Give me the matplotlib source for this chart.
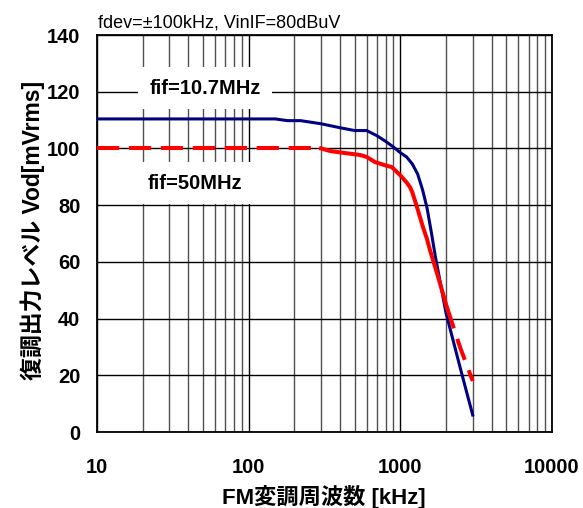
import matplotlib
matplotlib.use("Agg")
import matplotlib.pyplot as plt
import numpy as np

plt.rcParams['font.family'] = ['Liberation Sans', 'Noto Sans CJK JP']
plt.rcParams['lines.scale_dashes'] = False

# FM modulation frequency [kHz] and demodulated output level [mVrms]
freq_107 = [10, 20, 50, 100, 150, 180, 220, 300, 400, 500, 600, 700, 800, 900,
            1000, 1100, 1200, 1300, 1400, 1500, 1600, 1700, 1800, 2000, 2500, 3000]
vod_107 = [110.4, 110.4, 110.4, 110.4, 110.4, 109.8, 109.8, 108.7, 107.3, 106.3,
           106.3, 104.5, 102.5, 100.5, 98.5, 97.0, 94.5, 91.0, 85.5, 79.0,
           70.5, 62.0, 55.0, 42.0, 22.0, 6.0]

freq_50 = [10, 20, 30, 50, 100, 200, 300, 344, 400, 542, 600, 680, 800, 880,
           1000, 1100, 1157, 1200, 1288, 1409, 1500, 1567, 1700, 1824, 2028,
           2472, 3000]
vod_50 = [100.0, 100.0, 100.0, 100.0, 100.0, 100.0, 100.0, 99.1, 98.6, 97.7,
          97.0, 95.2, 94.0, 93.4, 90.5, 88.0, 86.4, 84.5, 79.3, 72.3, 68.0,
          64.2, 58.0, 52.5, 44.0, 30.0, 18.0]

xticks = [10, 100, 1000, 10000]
xticklabels = ["10", "100", "1000", "10000"]
yticks = [0, 20, 40, 60, 80, 100, 120, 140]

label_107 = "fif=10.7MHz"
label_50 = "fif=50MHz"
title = "fdev=\u00b1100kHz, VinIF=80dBuV"
xlabel = "FM変調周波数 [kHz]"
ylabel = "復調出力レベル Vod[mVrms]"

W, H = 583, 508
fig = plt.figure(figsize=(W / 100, H / 100), dpi=100)
ax = fig.add_axes([97 / W, 1 - 432 / H, 455 / W, 397 / H])

ax.set_xscale('log')
ax.set_xlim(10, 10000)
ax.set_ylim(0, 140)
ax.set_xticks(xticks)
ax.set_xticklabels(xticklabels)
ax.set_yticks(yticks)
ax.xaxis.set_minor_locator(matplotlib.ticker.LogLocator(base=10, subs=np.arange(2, 10)))
ax.xaxis.set_minor_formatter(matplotlib.ticker.NullFormatter())

ax.set_axisbelow(True)
ax.grid(which='major', axis='both', color='black', lw=1.0)
ax.grid(which='minor', axis='x', color='#505050', lw=1.0)
ax.tick_params(which='both', length=0)
ax.tick_params(axis='x', pad=19, labelsize=14.5)
ax.tick_params(axis='y', pad=12, labelsize=14.5)
for lab in ax.get_xticklabels() + ax.get_yticklabels():
    lab.set_fontweight('bold')
for sp in ax.spines.values():
    sp.set_color('black')
    sp.set_linewidth(1.3)

# 10.7 MHz IF: solid navy
ax.plot(freq_107, vod_107, color='#000080', lw=2.2, solid_joinstyle='round',
        zorder=4)

# 50 MHz IF: dashed where the points are sparse, solid across the dense roll-off
f50 = np.array(freq_50, dtype=float)
v50 = np.array(vod_50, dtype=float)
lo = f50 <= 300
mid = (f50 >= 300) & (f50 <= 2028)
hi = f50 >= 2028
ax.plot(f50[lo], v50[lo], color='#FF0000', lw=2.9, linestyle=(0, (16, 7)),
        dash_capstyle='butt', zorder=5)
ax.plot(f50[mid], v50[mid], color='#FF0000', lw=2.9, solid_joinstyle='round',
        zorder=5)
ax.plot(f50[hi], v50[hi], color='#FF0000', lw=2.9, linestyle=(0, (16, 8)),
        dash_capstyle='butt', zorder=5)

box = dict(boxstyle='square,pad=0.55', fc='white', ec='none')
ax.text(51.5, 121.3, label_107, ha='center', va='center', fontsize=14.5,
        fontweight='bold', bbox=box, zorder=3)
ax.text(44, 87.8, label_50, ha='center', va='center', fontsize=14.5,
        fontweight='bold', bbox=box, zorder=3)

fig.text(98 / W, 1 - 28 / H, title, ha='left', va='baseline', fontsize=13)

fig.text(324 / W, 1 - 497 / H, xlabel, ha='center', va='center',
         fontsize=16, fontweight='bold')
fig.text(33 / W, 1 - 230 / H, ylabel, ha='center', va='center', rotation=90,
         fontsize=16.5, fontweight='bold')

fig.savefig('out.png', dpi=100)
